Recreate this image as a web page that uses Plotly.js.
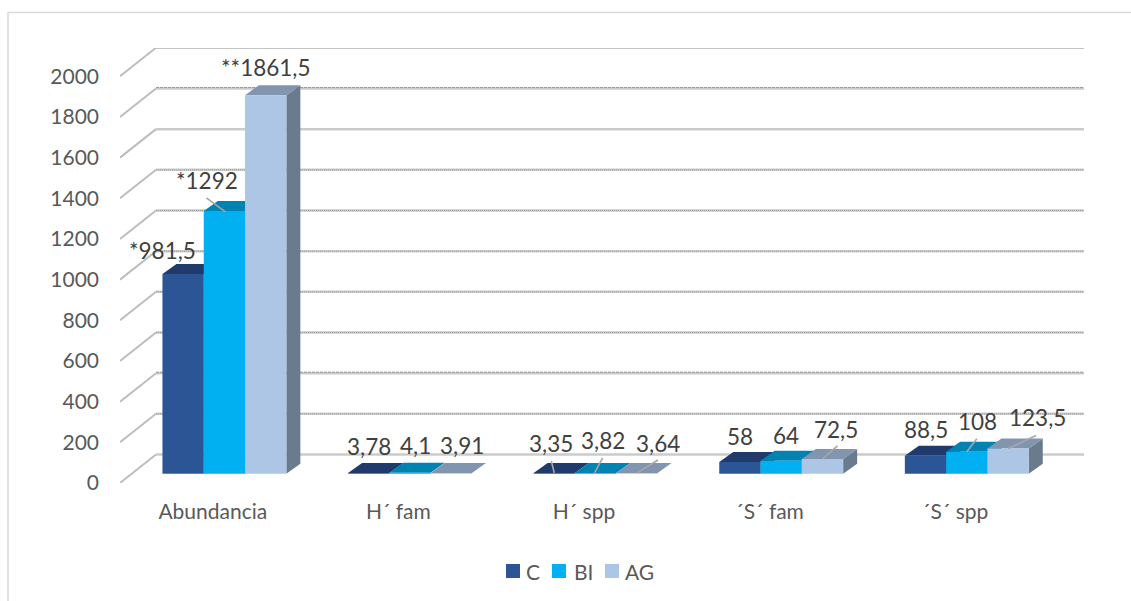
<!DOCTYPE html>
<html>
<head>
<meta charset="utf-8">
<script src="https://cdn.plot.ly/plotly-3.0.1.min.js"></script>
<style>
  html, body { margin: 0; padding: 0; background: #fff; overflow: hidden; }
  #chart { width: 1131px; height: 601px; }
</style>
</head>
<body>
<div id="chart"></div>
<script>
// Chart data
const categories = ["Abundancia", "H\u00B4 fam", "H\u00B4 spp", "\u00B4S\u00B4 fam", "\u00B4S\u00B4 spp"];
const seriesNames = ["C", "BI", "AG"];
const valuesC  = [981.5, 3.78, 3.35, 58, 88.5];
const valuesBI = [1292, 4.1, 3.82, 64, 108];
const valuesAG = [1861.5, 3.91, 3.64, 72.5, 123.5];
const labelsC  = ["*981,5", "3,78", "3,35", "58", "88,5"];
const labelsBI = ["*1292", "4,1", "3,82", "64", "108"];
const labelsAG = ["**1861,5", "3,91", "3,64", "72,5", "123,5"];
const yTicks = [0, 200, 400, 600, 800, 1000, 1200, 1400, 1600, 1800, 2000];

// Colours per series: front, top and side faces
const frontColors = ["#2C5596", "#00B0F0", "#ADC6E5"];
const topColors   = ["#203A6C", "#0083B3", "#8196AE"];
const sideColors  = ["#1B3460", "#0075A0", "#6B7B8E"];

// Plot frame in pixels and the scale of each axis
const plotLeft = 120, plotRight = 1084, plotTop = 48, plotBottom = 483;
const catPx = 185.6;              // width of one category on the front plane
const valPx = 406.7 / 2000;       // pixels per unit on the value axis
const xPerPx = 1 / catPx, yPerPx = 1 / valPx;

// Oblique projection offsets
const wallDx = 36 * xPerPx, wallDy = 28.5 * yPerPx;   // floor depth up to the back wall
const barDx = 11.6 * xPerPx, barDy = 9.3 * yPerPx;    // front plane of the bars
const faceDx = 14 * xPerPx, faceDy = 10 * yPerPx;     // depth of one bar
const barWidth = 41.3 * xPerPx;

const xRange = [-0.5, -0.5 + (plotRight - plotLeft) * xPerPx];
const yRange = [0, (plotBottom - plotTop) * yPerPx];

const allValues = [valuesC, valuesBI, valuesAG];
const allLabels = [labelsC, labelsBI, labelsAG];
const barLeft = (cat, s) => cat + barDx - 1.5 * barWidth + s * barWidth;
const barMid = (cat, s) => barLeft(cat, s) + barWidth / 2;
const barTop = (cat, s) => barDy + allValues[s][cat];

const traces = [];

// Back wall gridlines and the slanted floor/side lines leading to them
const wallX = [], wallY = [], slantX = [], slantY = [];
yTicks.forEach(t => {
  slantX.push(xRange[0], xRange[0] + wallDx, null);
  slantY.push(t, t + wallDy, null);
  wallX.push(xRange[0] + wallDx, xRange[1], null);
  wallY.push(t + wallDy, t + wallDy, null);
});
traces.push({ x: slantX, y: slantY, mode: "lines", line: { color: "#BDBDBD", width: 2 }, cliponaxis: false, showlegend: false, hoverinfo: "skip" });
traces.push({ x: wallX, y: wallY, mode: "lines", line: { color: "#CBCBCB", width: 2.5 }, cliponaxis: false, showlegend: false, hoverinfo: "skip" });

// Fine rule running along most of the gridlines
const dottedTicks = [200, 600, 800, 1000, 1200, 1400, 2000];
const dashedTicks = [400, 1800];
function ruleTrace(ticks, dash, offset) {
  const x = [], y = [];
  ticks.forEach(t => {
    x.push(xRange[0] + wallDx, xRange[1], null);
    y.push(t + wallDy + offset * yPerPx, t + wallDy + offset * yPerPx, null);
  });
  return { x, y, mode: "lines", line: { color: "#9A9A9A", width: 1, dash }, cliponaxis: false, showlegend: false, hoverinfo: "skip" };
}
traces.push(ruleTrace(dottedTicks, "1px,1px", 0));
traces.push(ruleTrace(dashedTicks, "3px,1px", 1));

// Top and side faces, painted left to right so nearer bars cover farther ones
seriesNames.forEach((name, s) => {
  const tx = [], ty = [], sx = [], sy = [];
  categories.forEach((c, cat) => {
    const xl = barLeft(cat, s), xr = xl + barWidth, top = barTop(cat, s);
    tx.push(xl, xr, xr + faceDx, xl + faceDx, xl, null);
    ty.push(top, top, top + faceDy, top + faceDy, top, null);
    sx.push(xr, xr + faceDx, xr + faceDx, xr, xr, null);
    sy.push(barDy, barDy + faceDy, top + faceDy, top, barDy, null);
  });
  traces.push({ x: sx, y: sy, mode: "lines", fill: "toself", fillcolor: sideColors[s], line: { width: 0 }, showlegend: false, hoverinfo: "skip" });
  traces.push({ x: tx, y: ty, mode: "lines", fill: "toself", fillcolor: topColors[s], line: { width: 0 }, showlegend: false, hoverinfo: "skip" });
});

// Front faces sit on an overlaid subplot, above every top and side face
seriesNames.forEach((name, s) => {
  traces.push({
    type: "bar", name, xaxis: "x2", yaxis: "y2",
    x: categories.map((c, cat) => cat + barDx),
    y: allValues[s],
    base: categories.map(() => barDy),
    marker: { color: frontColors[s], line: { width: 0 } },
    showlegend: false,
    hovertemplate: name + ": %{y}<extra></extra>"
  });
});

const textFamily = "Lato, 'Open Sans', sans-serif";

// Placement of each value label relative to the middle of its bar's top edge,
// with an optional leader line [startDx, startDy, endDx, endDy] in pixels.
const labelPlacement = [
  [0, 0, -21, -24, null], [1, 0, -17, -30, [-18, -13, 1, 1]], [2, 0, 0, -28, null],
  [0, 1, 0, -26, null], [1, 1, 5, -27, null], [2, 1, 11, -27, null],
  [0, 2, -3, -30, [-3, -12, 0, 0]], [1, 2, 7, -32, [7, -15, -1, 0]], [2, 2, 21, -29, [21, -13, 0, 0]],
  [0, 3, 0, -25, null], [1, 3, 5, -25, null], [2, 3, 13, -29, [15, -13, 0, 0]],
  [0, 4, 0, -26, null], [1, 4, 11, -30, [10, -13, 0, 0]], [2, 4, 29, -31, [28, -13, 0, 0]]
];

const leaderX = [], leaderY = [];
const annotations = labelPlacement.map(([s, cat, dx, dy, leader]) => {
  const xm = barMid(cat, s), top = barTop(cat, s);
  if (leader) {
    leaderX.push(xm + leader[0] * xPerPx, xm + leader[2] * xPerPx, null);
    leaderY.push(top - leader[1] * yPerPx, top - leader[3] * yPerPx, null);
  }
  return {
    xref: "x2", yref: "y2", x: xm, y: top, xshift: dx, yshift: -dy,
    text: allLabels[s][cat], showarrow: false, xanchor: "center", yanchor: "middle",
    font: { family: textFamily, size: 22.5, color: "#404040" }
  };
});
traces.push({ x: leaderX, y: leaderY, xaxis: "x2", yaxis: "y2", mode: "lines", line: { color: "#A6A6A6", width: 1.6 }, showlegend: false, hoverinfo: "skip" });

const axisFont = { family: textFamily, size: 21, color: "#595959" };
const W = 1131, H = 601;
const toPaperX = px => (px - plotLeft) / (plotRight - plotLeft);
const toPaperY = py => (plotBottom - py) / (plotBottom - plotTop);

// Legend row below the plot: one square and one name per series
const legendY = 571, legendSwatch = 14;
const legendSwatchLeft = [506, 552, 605];
const legendTextLeft = [525, 573, 624];
const legendShapes = seriesNames.map((name, s) => ({
  type: "rect", xref: "paper", yref: "paper", layer: "above",
  x0: toPaperX(legendSwatchLeft[s]), x1: toPaperX(legendSwatchLeft[s] + legendSwatch),
  y0: toPaperY(legendY - legendSwatch / 2), y1: toPaperY(legendY + legendSwatch / 2),
  fillcolor: frontColors[s], line: { width: 0 }
}));
const legendNames = seriesNames.map((name, s) => ({
  xref: "paper", yref: "paper", x: toPaperX(legendTextLeft[s]), y: toPaperY(legendY),
  text: name, showarrow: false, xanchor: "left", yanchor: "middle", borderpad: 0,
  font: axisFont
}));

const layout = {
  width: W, height: H,
  margin: { l: plotLeft, r: W - plotRight, t: plotTop, b: H - plotBottom, pad: 0 },
  paper_bgcolor: "#fff", plot_bgcolor: "rgba(0,0,0,0)",
  barmode: "group", bargap: 1 - 3 * barWidth, bargroupgap: 0,
  xaxis: {
    range: xRange, tickmode: "array", tickvals: categories.map((c, i) => i), ticktext: categories,
    showgrid: false, zeroline: false, showline: false, ticks: "", tickfont: axisFont, ticklabelstandoff: 14
  },
  yaxis: {
    range: yRange, tickmode: "array", tickvals: yTicks, ticktext: yTicks.map(String),
    showgrid: false, zeroline: false, showline: false, ticks: "", tickfont: axisFont, ticklabelstandoff: 20
  },
  xaxis2: { range: xRange, overlaying: "x", visible: false, fixedrange: true },
  yaxis2: { range: yRange, overlaying: "y", visible: false, fixedrange: true },
  showlegend: false,
  annotations: annotations.concat(legendNames),
  shapes: [
    // Chart area border: left and top edges
    { type: "line", xref: "paper", yref: "paper", x0: toPaperX(8), x1: toPaperX(8), y0: toPaperY(12), y1: toPaperY(H), line: { color: "#D9D9D9", width: 1.5 } },
    { type: "line", xref: "paper", yref: "paper", x0: toPaperX(8), x1: toPaperX(W), y0: toPaperY(12.5), y1: toPaperY(12.5), line: { color: "#D9D9D9", width: 1.5 } }
  ].concat(legendShapes)
};

Plotly.newPlot("chart", traces, layout, { displayModeBar: false, staticPlot: true });
</script>
</body>
</html>
